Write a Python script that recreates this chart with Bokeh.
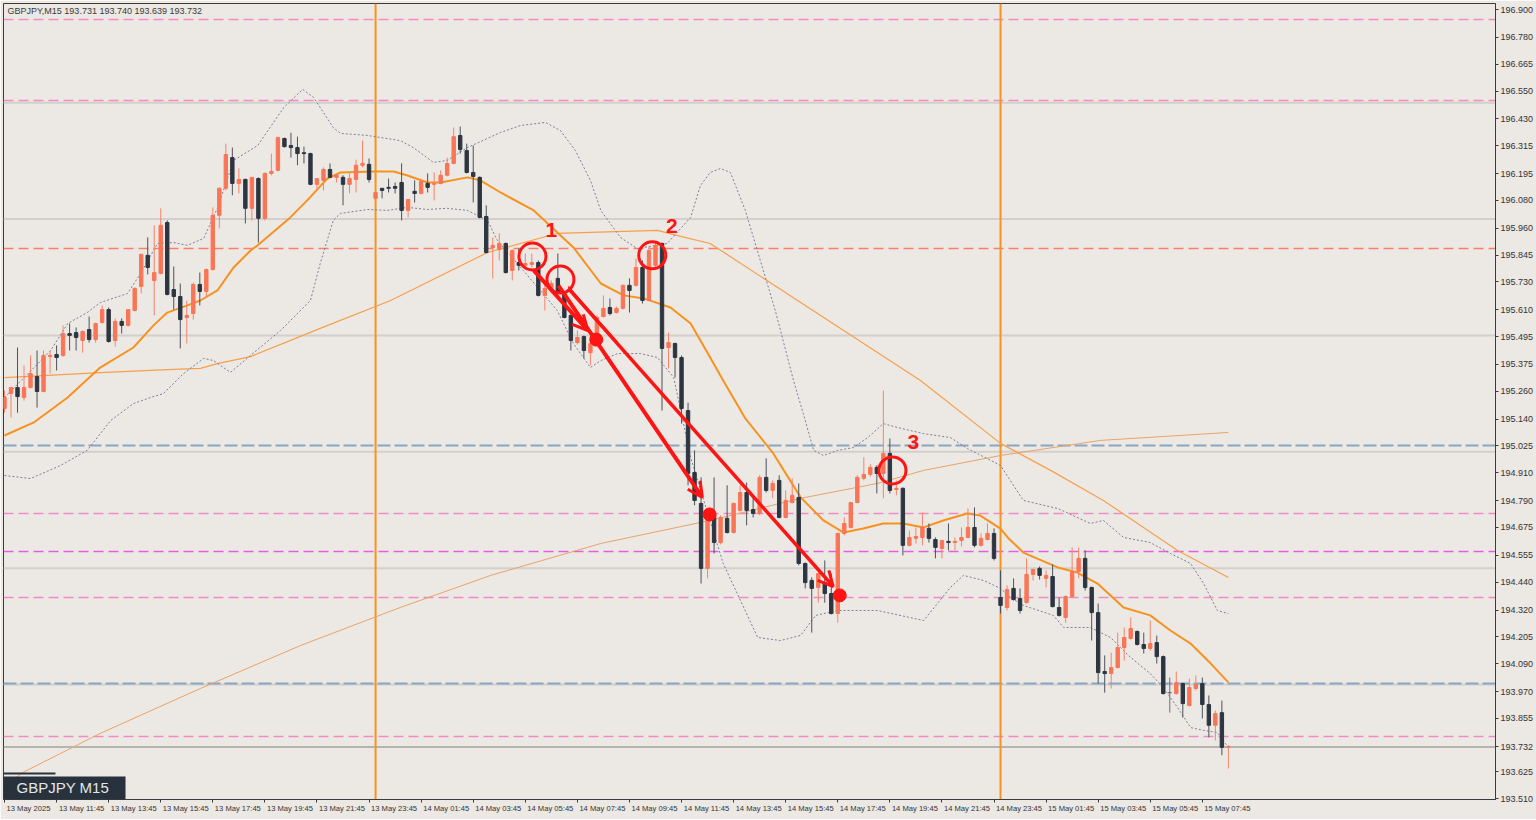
from bokeh.plotting import figure
from bokeh.models import (Range1d, FixedTicker, PrintfTickFormatter, Span, Label,
                          ColumnDataSource, BoxAnnotation, Arrow, OpenHead, LinearAxis)
from bokeh.embed import file_html
from bokeh.resources import INLINE
from bokeh.core.properties import value

# ---------------- data (GBPJPY M15) ----------------
header = "GBPJPY,M15  193.731 193.740 193.639 193.732"
symbol_label = "GBPJPY M15"

opens = [195.186,195.250,195.276,195.233,195.276,195.323,195.259,195.409,195.418,195.414,
         195.508,195.512,195.478,195.525,195.482,195.555,195.611,195.478,195.560,195.543,
         195.607,195.710,195.844,195.736,195.766,195.985,195.697,195.667,195.577,195.594,
         195.719,195.689,195.783,196.016,196.132,196.264,196.153,196.170,196.046,196.174,
         196.003,196.196,196.209,196.346,196.316,196.307,196.285,196.281,196.149,196.166,
         196.213,196.179,196.179,196.149,196.170,196.231,196.235,196.089,196.132,196.136,
         196.140,196.157,196.037,196.119,196.110,196.153,196.149,196.153,196.188,196.239,
         196.359,196.294,196.200,196.179,196.011,195.878,195.869,195.895,195.779,195.813,
         195.801,195.805,195.813,195.672,195.693,195.745,195.680,195.586,195.469,195.495,
         195.426,195.465,195.581,195.620,195.598,195.616,195.715,195.715,195.792,195.650,
         195.801,195.895,195.448,195.465,195.405,195.177,194.911,194.778,194.499,194.727,
         194.610,194.714,194.653,194.748,194.825,194.752,194.735,194.890,194.834,194.877,
         194.718,194.782,194.804,194.520,194.447,194.417,194.438,194.391,194.305,194.649,
         194.675,194.782,194.886,194.903,194.933,194.907,194.993,194.838,194.843,194.598,
         194.628,194.632,194.671,194.623,194.585,194.615,194.610,194.619,194.632,194.675,
         194.598,194.623,194.649,194.374,194.331,194.413,194.370,194.352,194.473,194.499,
         194.456,194.464,194.331,194.288,194.378,194.486,194.542,194.417,194.309,194.056,
         194.047,194.073,194.159,194.198,194.228,194.172,194.155,194.180,194.120,193.965,
         193.961,194.004,193.910,193.983,194.004,193.914,193.825,193.879,193.731]
highs = [195.263,195.276,195.448,195.371,195.414,195.435,195.435,195.435,195.457,195.543,
         195.551,195.534,195.521,195.581,195.555,195.629,195.620,195.573,195.573,195.611,
         195.706,195.852,195.921,195.973,196.046,195.994,195.796,195.723,195.650,195.727,
         195.770,195.788,196.050,196.136,196.324,196.307,196.218,196.174,196.179,196.179,
         196.200,196.281,196.354,196.350,196.371,196.354,196.311,196.285,196.174,196.222,
         196.239,196.192,196.188,196.196,196.255,196.337,196.260,196.114,196.132,196.174,
         196.157,196.239,196.084,196.166,196.166,196.196,196.200,196.209,196.264,196.393,
         196.397,196.324,196.316,196.183,196.059,195.921,195.938,195.899,195.869,195.874,
         195.852,195.852,195.822,195.736,195.736,195.852,195.684,195.590,195.521,195.500,
         195.500,195.586,195.672,195.659,195.624,195.719,195.745,195.831,195.822,195.882,
         195.899,195.899,195.512,195.469,195.414,195.211,195.006,194.890,194.735,194.890,
         194.727,194.856,194.782,194.856,194.868,194.804,194.899,194.972,194.877,194.899,
         194.834,194.886,194.864,194.524,194.460,194.477,194.533,194.477,194.653,194.718,
         194.782,194.899,194.976,194.946,194.942,195.263,195.057,194.877,194.847,194.662,
         194.675,194.739,194.692,194.632,194.619,194.692,194.632,194.675,194.757,194.761,
         194.649,194.692,194.671,194.490,194.426,194.456,194.413,194.542,194.499,194.507,
         194.490,194.516,194.374,194.383,194.589,194.589,194.576,194.421,194.348,194.125,
         194.137,194.223,194.245,194.288,194.232,194.223,194.275,194.210,194.125,194.030,
         194.056,194.008,194.026,194.039,194.030,193.953,193.888,193.931,193.740]
lows = [195.168,195.147,195.168,195.220,195.272,195.190,195.255,195.336,195.349,195.409,
        195.435,195.435,195.426,195.469,195.469,195.551,195.469,195.452,195.508,195.538,
        195.603,195.680,195.762,195.586,195.762,195.672,195.611,195.444,195.465,195.568,
        195.629,195.663,195.779,195.960,196.123,196.102,196.110,195.981,195.994,195.899,
        195.994,196.188,196.205,196.307,196.264,196.231,196.239,196.145,196.123,196.123,
        196.179,196.157,196.059,196.110,196.114,196.222,196.157,196.084,196.089,196.114,
        196.110,195.994,196.007,196.071,196.106,196.114,196.080,196.149,196.183,196.235,
        196.281,196.196,196.071,196.003,195.852,195.745,195.822,195.766,195.736,195.779,
        195.796,195.792,195.667,195.607,195.680,195.680,195.573,195.435,195.461,195.401,
        195.371,195.461,195.577,195.586,195.594,195.611,195.598,195.710,195.637,195.646,
        195.792,195.177,195.358,195.319,195.121,194.856,194.770,194.434,194.456,194.563,
        194.602,194.649,194.649,194.744,194.684,194.718,194.727,194.825,194.800,194.714,
        194.714,194.778,194.512,194.413,194.223,194.352,194.352,194.301,194.266,194.641,
        194.671,194.778,194.877,194.894,194.821,194.800,194.821,194.813,194.555,194.593,
        194.606,194.598,194.610,194.542,194.542,194.576,194.576,194.593,194.628,194.589,
        194.593,194.619,194.533,194.305,194.318,194.361,194.305,194.348,194.447,194.451,
        194.417,194.331,194.292,194.266,194.374,194.456,194.404,194.189,194.004,193.965,
        193.983,194.069,194.103,194.193,194.168,194.133,194.146,194.090,193.957,193.879,
        193.957,193.858,193.905,193.974,193.854,193.773,193.760,193.696,193.639]
closes = [195.233,195.276,195.237,195.276,195.336,195.259,195.414,195.414,195.405,195.508,
          195.500,195.491,195.517,195.482,195.551,195.611,195.474,195.560,195.543,195.611,
          195.702,195.848,195.792,195.770,195.973,195.676,195.667,195.568,195.586,195.719,
          195.689,195.783,196.016,196.132,196.277,196.153,196.170,196.046,196.179,196.003,
          196.196,196.205,196.350,196.311,196.307,196.281,196.281,196.149,196.174,196.213,
          196.179,196.188,196.149,196.174,196.231,196.239,196.170,196.114,196.123,196.132,
          196.132,196.037,196.084,196.110,196.162,196.136,196.153,196.188,196.239,196.354,
          196.299,196.200,196.183,196.007,195.856,195.887,195.895,195.770,195.865,195.801,
          195.809,195.813,195.672,195.702,195.723,195.684,195.577,195.478,195.491,195.435,
          195.465,195.577,195.616,195.594,195.616,195.715,195.693,195.792,195.650,195.865,
          195.887,195.444,195.469,195.405,195.186,194.907,194.791,194.499,194.718,194.610,
          194.718,194.653,194.778,194.825,194.748,194.735,194.890,194.834,194.864,194.718,
          194.791,194.813,194.520,194.438,194.413,194.477,194.391,194.305,194.649,194.692,
          194.782,194.890,194.903,194.933,194.907,194.993,194.834,194.843,194.598,194.632,
          194.636,194.675,194.628,194.589,194.619,194.610,194.615,194.632,194.675,194.598,
          194.628,194.649,194.542,194.340,194.408,194.365,194.318,194.473,194.494,194.469,
          194.469,194.335,194.297,194.378,194.486,194.542,194.417,194.309,194.051,194.047,
          194.073,194.159,194.202,194.241,194.172,194.155,194.176,194.120,193.961,193.965,
          194.008,193.918,193.987,194.000,193.914,193.825,193.875,193.730,193.732]

# moving averages / bands, read at sample bars
ma_fast_bar = [0,4.5,9.7,14.7,19.8,22.9,25.0,28.1,30.1,32.7,35.2,37.8,38.9,43.9,46.5,49.6,51.6,56.7,
               59.8,61.9,65.0,67.0,71.1,73.1,76.2,81.3,87.4,91.6,95.1,98.2,102.3,105.4,108.4,110.4,
               113.8,118.1,122.3,125.8,128.9,131.9,135.0,138.1,141.2,144.2,147.9,149.9,153.0,154.1,
               156.5,161.8,164.8,167.9,171.9,176.0,179.1,182.2,185.3,188.0]
ma_fast_val = [195.070,195.126,195.233,195.362,195.448,195.543,195.598,195.629,195.650,195.693,
               195.792,195.865,195.887,196.007,196.080,196.174,196.200,196.204,196.204,196.187,
               196.157,196.157,196.179,196.166,196.114,196.037,195.878,195.723,195.672,195.659,
               195.620,195.551,195.405,195.306,195.143,194.993,194.804,194.705,194.653,194.670,
               194.692,194.692,194.675,194.705,194.735,194.726,194.670,194.632,194.567,194.503,
               194.481,194.434,194.331,194.297,194.232,194.176,194.090,194.009]
ma_mid_bar = [0,14.7,25.0,30.1,32.7,37.8,48.5,59.3,74.2,84.9,100.3,103.4,108.4,122.3,140.7,
              153.0,160.7,168.8,180.2,188.0]
ma_mid_val = [195.319,195.340,195.353,195.358,195.379,195.409,195.530,195.650,195.856,195.938,
              195.951,195.929,195.895,195.641,195.306,195.036,194.920,194.791,194.576,194.460]
ma_slow_bar = [0,2.8,14.7,30.1,45.5,60.8,74.7,91.6,108.4,122.3,134.1,141.2,153.0,168.4,188.0]
ma_slow_val = [193.562,193.622,193.790,193.983,194.168,194.331,194.469,194.606,194.705,194.800,
               194.864,194.920,194.984,195.049,195.083]
bb_up_bar = [0,7.1,9.7,12.7,14.7,18.9,20.9,23.5,26.0,28.1,30.6,32.7,35.2,38.9,42.9,45.8,47.5,
             50.5,51.6,55.8,57.8,60.8,62.8,65.9,68.0,71.1,76.2,79.3,83.1,85.4,87.7,90.0,91.6,94.6,
             97.2,101.8,105.4,106.9,108.4,110.0,111.5,113.8,116.1,118.4,121.2,122.7,124.3,125.8,
             128.0,130.4,132.6,135.0,137.2,141.2,145.3,147.9,151.5,153.0,156.5,161.8,166.8,168.8,
             171.9,176.0,179.1,182.2,184.2,186.3,188.0]
bb_up_val = [195.233,195.435,195.551,195.598,195.641,195.680,195.766,195.895,195.899,195.887,
             195.917,196.046,196.252,196.316,196.479,196.557,196.522,196.393,196.368,196.359,
             196.350,196.337,196.307,196.243,196.252,196.307,196.372,196.402,196.415,196.380,
             196.294,196.166,196.037,195.921,195.873,195.895,196.007,196.144,196.200,196.217,
             196.200,196.037,195.822,195.607,195.306,195.164,195.006,194.984,195.006,195.018,
             195.061,195.121,195.104,195.078,195.061,195.014,194.963,194.941,194.791,194.756,
             194.692,194.705,194.632,194.610,194.563,194.520,194.434,194.318,194.305]
bb_lo_bar = [0,4.0,8.6,12.7,16.3,19.8,22.4,24.4,27.5,30.6,32.1,34.7,37.8,42.4,47.0,48.5,50.5,
             51.6,55.8,58.8,61.9,65.0,68.0,71.1,74.2,75.7,79.7,84.9,87.4,90.0,91.6,94.2,97.7,
             100.3,102.8,105.4,110.4,115.7,119.2,122.3,124.6,128.0,134.1,141.2,145.3,147.3,150.4,
             153.0,154.5,156.5,161.1,162.7,166.8,169.9,173.0,176.0,178.0,180.2,182.2,184.2,186.3,
             188.0]
bb_lo_val = [194.898,194.885,194.941,195.006,195.134,195.207,195.233,195.250,195.336,195.401,
             195.392,195.341,195.414,195.521,195.650,195.809,195.994,196.024,196.041,196.037,
             196.050,196.041,196.046,196.037,195.994,195.908,195.779,195.607,195.465,195.362,
             195.392,195.422,195.422,195.405,195.319,194.975,194.520,194.202,194.189,194.211,
             194.297,194.318,194.318,194.275,194.417,194.469,194.447,194.413,194.374,194.340,
             194.297,194.245,194.245,194.202,194.116,194.047,193.987,193.901,193.815,193.803,
             193.794,193.729]

# horizontal levels
round_levels = [196.5, 196.0, 195.5, 195.0, 194.5, 194.0]
pink_levels = [196.857, 196.509, 194.735, 194.374, 193.777]
salmon_levels = [195.873]
magenta_levels = [194.572]
blue_levels = [195.027, 194.004]
last_price = 193.732
day_start_bars = [57, 153]

# axis ticks
price_ticks = [196.900,196.780,196.665,196.550,196.430,196.315,196.195,196.080,195.960,195.845,
               195.730,195.610,195.495,195.375,195.260,195.140,195.025,194.910,194.790,194.675,
               194.555,194.440,194.320,194.205,194.090,193.970,193.855,193.625,193.510]
time_tick_bars = list(range(0, 185, 8))
time_tick_labels = ["13 May 2025","13 May 11:45","13 May 13:45","13 May 15:45","13 May 17:45",
                    "13 May 19:45","13 May 21:45","13 May 23:45","14 May 01:45","14 May 03:45",
                    "14 May 05:45","14 May 07:45","14 May 09:45","14 May 11:45","14 May 13:45",
                    "14 May 15:45","14 May 17:45","14 May 19:45","14 May 21:45","14 May 23:45",
                    "15 May 01:45","15 May 03:45","15 May 05:45","15 May 07:45"]

# annotations (bar index, price)
circle_bar = [81.1, 85.4, 99.5, 136.4]
circle_val = [195.839, 195.740, 195.844, 194.920]
dot_bar = [90.9, 108.3, 128.3]
dot_val = [195.482, 194.731, 194.383]
num_bar = [84.0, 102.5, 139.6]
num_val = [195.951, 195.968, 195.044]
num_text = ["1", "2", "3"]
arrows = [  # x0, y0, x1, y1, width
    (81.3, 195.779, 89.6, 195.521, 4),
    (85.1, 195.714, 107.2, 194.804, 4),
    (86.6, 195.702, 127.3, 194.421, 3.5),
]
thin_line_bar = [86.6, 94.2]
thin_line_val = [195.710, 195.470]

# ---------------- styling / layout ----------------
BG = "#ece8e4"
UP = "#f97556"
DN = "#2c3540"
DOJI = "#707070"
RED = "#ff1414"
FONT = "Liberation Sans"
PX_PER_BAR = 6.51
FRAME_W, FRAME_H = 1492, 796

x0 = -1.0 / PX_PER_BAR
x1 = x0 + FRAME_W / PX_PER_BAR
y0, y1 = 193.506, 196.926

p = figure(frame_width=FRAME_W, frame_height=FRAME_H, x_range=Range1d(x0, x1), y_range=Range1d(y0, y1),
           y_axis_location="right", toolbar_location=None, output_backend="svg",
           min_border_left=3, min_border_top=3, min_border_bottom=20, min_border_right=40,
           background_fill_color=BG, border_fill_color=BG,
           outline_line_color="#3c3c3c", outline_line_width=1)
p.grid.visible = False

for lv in round_levels:
    p.add_layout(Span(location=lv, dimension="width", line_color="#d2cfcc", line_width=2, level="underlay"))
for lv in pink_levels:
    p.add_layout(Span(location=lv, dimension="width", line_color="#f08cc4", line_width=1.5,
                      line_dash="10 5", level="underlay"))
for lv in salmon_levels:
    p.add_layout(Span(location=lv, dimension="width", line_color="#f7806a", line_width=1.5,
                      line_dash="10 5", level="underlay"))
for lv in magenta_levels:
    p.add_layout(Span(location=lv, dimension="width", line_color="#e060e0", line_width=1.5,
                      line_dash="10 5", level="underlay"))
for lv in blue_levels:
    p.add_layout(Span(location=lv, dimension="width", line_color="#8aa5c2", line_width=2,
                      line_dash="13 4", level="underlay"))
p.add_layout(Span(location=last_price, dimension="width", line_color="#a3a3a3", line_width=1.5,
                  level="underlay"))
for b in day_start_bars:
    p.add_layout(Span(location=b, dimension="height", line_color="#f7931e", line_width=2,
                      level="underlay"))

# indicator lines
p.line(ma_slow_bar, ma_slow_val, line_color="#e8a46a", line_width=1)
p.line(ma_mid_bar, ma_mid_val, line_color="#f6a04c", line_width=1.2)
p.line(bb_up_bar, bb_up_val, line_color="#817c9c", line_width=1, line_dash="2 2")
p.line(bb_lo_bar, bb_lo_val, line_color="#817c9c", line_width=1, line_dash="2 2")
p.line(ma_fast_bar, ma_fast_val, line_color="#f7921e", line_width=2)

# candles
bars = list(range(len(opens)))
col = [UP if c > o else (DN if c < o else DOJI) for o, c in zip(opens, closes)]
wick = [("#f6836a" if c > o else ("#4b535c" if c < o else DOJI)) for o, c in zip(opens, closes)]
src = ColumnDataSource(dict(x=bars, o=opens, h=highs, l=lows, c=closes,
                            top=[max(o, c) for o, c in zip(opens, closes)],
                            bot=[min(o, c) for o, c in zip(opens, closes)],
                            col=col, wick=wick))
p.segment(x0="x", y0="l", x1="x", y1="h", line_color="wick", line_width=1, source=src)
p.vbar(x="x", width=0.52, top="top", bottom="bot", fill_color="col", line_color="col",
       line_width=1, source=src)

# drawings
p.line(thin_line_bar, thin_line_val, line_color=RED, line_width=1.5)
for (ax0, ay0, ax1, ay1, w) in arrows:
    p.add_layout(Arrow(end=OpenHead(size=15, line_color=RED, line_width=3),
                       x_start=ax0, y_start=ay0, x_end=ax1, y_end=ay1,
                       line_color=RED, line_width=w))
p.scatter(circle_bar, circle_val, marker="circle", size=27, fill_color=None,
          line_color=RED, line_width=3)
p.scatter(dot_bar, dot_val, marker="circle", size=13, fill_color=RED, line_color=RED)
p.text(x=num_bar, y=num_val, text=num_text, text_font=value(FONT), text_font_size="21px",
       text_color=RED, text_align="center", text_baseline="middle", text_font_style="bold")

# labels / boxes
p.add_layout(Label(x=x0, y=y1, x_offset=4, y_offset=-2, text=header, text_font=FONT,
                   text_font_size="9px", text_color="#3a3a3a", text_baseline="top", text_align="left"))
p.add_layout(BoxAnnotation(left=x0, right=18.59, bottom=y0, top=193.605,
                           fill_color="#27323c", fill_alpha=1, line_color=None))
p.add_layout(BoxAnnotation(left=x0, right=7.83, bottom=193.613, top=193.622,
                           fill_color="#27323c", fill_alpha=1, line_color=None))
p.add_layout(Label(x=1.84, y=193.556, text=symbol_label, text_font=FONT, text_font_size="15px",
                   text_color="#e3e7eb", text_baseline="middle", text_align="left"))

# price axis (right); the last price is shown as one of its labels
ya = p.yaxis[0]
ya.ticker = FixedTicker(ticks=price_ticks + [last_price])
ya.formatter = PrintfTickFormatter(format="%.3f")
ya.major_label_text_font = FONT
ya.major_label_text_font_size = "9px"
ya.major_label_text_color = "#333333"
ya.major_tick_out = 3
ya.major_tick_in = 0
ya.minor_tick_line_color = None
ya.axis_line_color = "#3c3c3c"
ya.major_tick_line_color = "#3c3c3c"
ya.major_label_standoff = 2

# time axis: tick marks on the first axis, left-aligned labels on a second one
xa = p.xaxis[0]
xa.ticker = FixedTicker(ticks=time_tick_bars)
xa.major_label_overrides = {b: "" for b in time_tick_bars}
xa.major_label_text_font_size = "1px"
xa.major_label_standoff = 0
xa.major_tick_out = 3
xa.major_tick_in = 0
xa.minor_tick_line_color = None
xa.axis_line_color = "#3c3c3c"
xa.major_tick_line_color = "#3c3c3c"

LABEL_PX = 7.6
CHAR_EM = {"0": .556, "1": .556, "2": .556, "3": .556, "4": .556, "5": .556, "6": .556, "7": .556,
           "8": .556, "9": .556, " ": .278, ":": .278, "M": .833, "a": .556, "y": .5}
label_ticks, label_over = [], {}
for b, t in zip(time_tick_bars, time_tick_labels):
    w = sum(CHAR_EM.get(ch, .556) for ch in t) * LABEL_PX
    pos = round(b + (2 + w / 2) / PX_PER_BAR, 3)
    label_ticks.append(pos)
    label_over[pos] = t
xa2 = LinearAxis(ticker=FixedTicker(ticks=label_ticks), major_label_overrides=label_over,
                 major_tick_line_color=None, major_tick_out=0, major_tick_in=0,
                 minor_tick_line_color=None, axis_line_color=None, major_label_standoff=1,
                 major_label_text_font=FONT, major_label_text_font_size="%.1fpx" % LABEL_PX,
                 major_label_text_color="#333333")
p.add_layout(xa2, "below")

open("out.html", "w").write(file_html(p, INLINE))
